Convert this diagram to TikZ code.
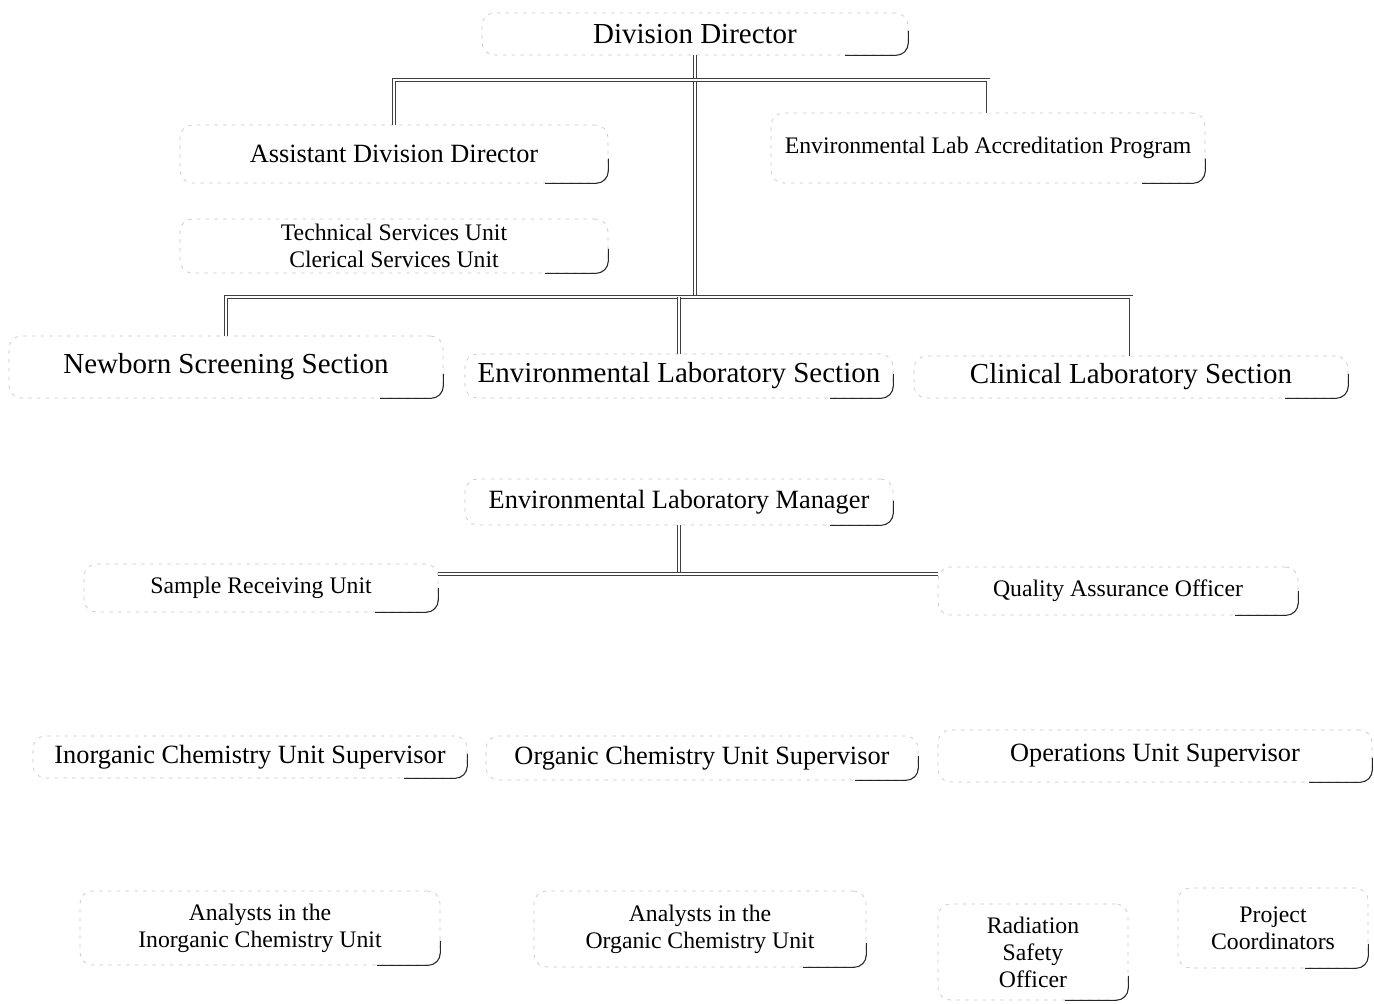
\documentclass[tikz,border=0pt]{standalone}
\usepackage{fontspec}
\setmainfont{Liberation Serif}
\usepackage{tikz}

\tikzset{
	box/.style={draw=black!22, dash pattern=on 2pt off 3pt, rounded corners=7pt, align=center, inner sep=0pt},
	corner/.style={draw=black!85, line width=0.6pt, rounded corners=7pt},
	link/.style={draw=black!75, line width=0.5pt, double=white, double distance=1.7pt},
	bigtext/.style={font=\fontsize{16.5}{19}\selectfont},
	midtext/.style={font=\fontsize{15}{17}\selectfont},
	smalltext/.style={font=\fontsize{13.5}{15.3}\selectfont}
}

\begin{document}
\begin{tikzpicture}[x=0.02cm,y=-0.02cm]
			\useasboundingbox (0,0) rectangle (1374,1004);
			%\draw[step=100,gray,very thin] (0,0) grid (1374,1004);
			
			\node[box, bigtext, minimum width=8.52cm, minimum height=0.84cm] (dd) at (695,34) {Division Director};
			
			\node[box, midtext, minimum width=8.56cm, minimum height=1.16cm] (add) at (394,154) {Assistant Division Director};
			\node[box, smalltext, minimum width=8.56cm, minimum height=1.08cm] (tsu) at (394,246) {Technical Services Unit\\Clerical Services Unit};
			\node[box, smalltext, minimum width=8.68cm, minimum height=1.4cm] (elap) at (988,148) {Environmental Lab Accreditation Program};
			
			\node[box, bigtext, minimum width=8.68cm, minimum height=1.24cm] (nss) at (226,367) {Newborn Screening Section};
			\node[box, bigtext, minimum width=8.56cm, minimum height=0.88cm] (els) at (679,376) {Environmental Laboratory Section};
			\node[box, bigtext, minimum width=8.68cm, minimum height=0.84cm] (cls) at (1131,377) {Clinical Laboratory Section};
			
			\node[box, midtext, minimum width=8.56cm, minimum height=0.92cm] (elm) at (679,502) {Environmental Laboratory Manager};
			\node[box, smalltext, minimum width=7.08cm, minimum height=0.96cm] (sru) at (261,588) {Sample Receiving Unit};
			\node[box, smalltext, minimum width=7.2cm, minimum height=0.96cm] (qao) at (1118,591) {Quality Assurance Officer};
			
			\node[box, midtext, minimum width=8.68cm, minimum height=0.84cm] (icus) at (250,757) {Inorganic Chemistry Unit Supervisor};
			\node[box, midtext, minimum width=8.64cm, minimum height=0.88cm] (ocus) at (702,758) {Organic Chemistry Unit Supervisor};
			\node[box, midtext, minimum width=8.68cm, minimum height=1.04cm] (ous) at (1155,756) {Operations Unit Supervisor};
			
			\node[box, smalltext, minimum width=7.2cm, minimum height=1.48cm] (aic) at (260,928) {Analysts in the\\Inorganic Chemistry Unit};
			\node[box, smalltext, minimum width=6.64cm, minimum height=1.52cm] (aoc) at (700,929) {Analysts in the\\Organic Chemistry Unit};
			\node[box, smalltext, minimum width=3.8cm, minimum height=1.92cm] (rso) at (1033,952) {Radiation\\Safety\\Officer};
			\node[box, smalltext, minimum width=3.8cm, minimum height=1.6cm] (pc) at (1273,928) {Project\\Coordinators};
			
			% darker lower right corners
			\foreach \n in {dd,add,tsu,elap,nss,els,cls,elm,sru,qao,icus,ocus,ous,aic,aoc,rso,pc}
				\draw[corner] ([yshift=14pt]\n.south east) -- (\n.south east) -- ([xshift=-36pt]\n.south east);
			
			\coordinate (bar1) at (695,80);
			\coordinate (bar2) at (695,297);
			\coordinate (bar3) at (679,574);
			
			\draw[link] (dd.south) -- (bar2);
			\draw[link] (add.north) |- (bar1) -| (elap.north);
			\draw[link] (nss.north) |- (bar2) -| (cls.north);
			\draw[link] (els.north) -- (els.north |- bar2);
			
			\draw[link] (elm.south) -- (bar3);
			\draw[link] (sru.east |- bar3) -- (qao.west |- bar3);
		\end{tikzpicture}
\end{document}
